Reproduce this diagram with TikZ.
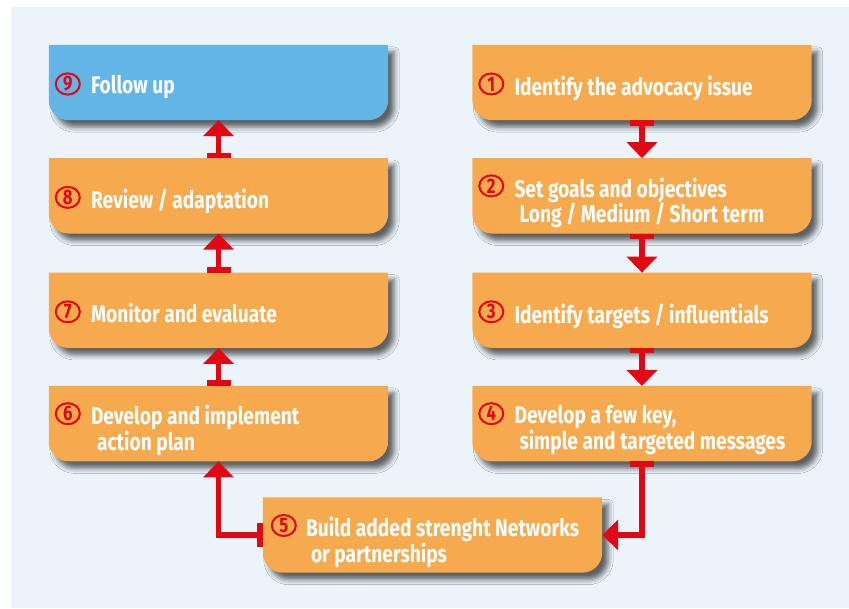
\documentclass[tikz,border=0pt]{standalone}
\usepackage{fontspec}
\newfontfamily\stepfont{Fira Sans}[FakeStretch=0.8]
\usepackage{tikz}
\usetikzlibrary{positioning,calc,backgrounds,arrows.meta,shapes.geometric,shadows.blur}
\definecolor{bgblue}{RGB}{235,244,251}
\definecolor{stepgold}{RGB}{247,169,78}
\definecolor{stepsky}{RGB}{99,181,230}
\definecolor{flowred}{RGB}{227,6,19}
\tikzset{stepbox/.style={minimum width=339pt,minimum height=75pt,inner sep=0pt}}

\begin{document}
\begin{tikzpicture}[x=1pt,y=1pt]
\tikzset{steptext/.style={text=white,align=left,inner sep=0pt,font=\stepfont\bfseries\fontsize{24}{24.5}\selectfont}}
\tikzset{stepnum/.style={ellipse,draw=flowred,line width=2pt,minimum width=24pt,minimum height=21pt,inner sep=0pt,text=flowred,font=\stepfont\bfseries\fontsize{21}{21}\selectfont}}
\tikzset{stepshadow/.style={blur shadow={shadow xshift=6pt,shadow yshift=-7pt,shadow blur radius=5pt,shadow opacity=60}}}
\tikzset{flow/.style={draw=flowred,line width=5.5pt,{Bar[width=24pt]}-{Triangle[width=30pt,length=16pt]}}}
\useasboundingbox (0,0) rectangle (849,608);
% right column
\node[stepbox] (s1) at (642,525.5) {};
\node[stepbox,below=38pt of s1] (s2) {};
\node[stepbox,below=39pt of s2] (s3) {};
\node[stepbox,below=38pt of s3] (s4) {};
% bottom
\node[stepbox] (s5) at (432.5,73) {};
% left column
\node[stepbox] (s9) at (218.5,525.5) {};
\node[stepbox,below=38pt of s9] (s8) {};
\node[stepbox,below=39pt of s8] (s7) {};
\node[stepbox,below=38pt of s7] (s6) {};
% texts
\node[steptext,below right=-7pt and 42pt of s1.west] (t1) {Identify the advocacy issue};
\node[steptext,below right=-18.5pt and 42pt of s2.west] (t2) {Set goals and objectives\\\hspace*{5pt}Long / Medium / Short term};
\node[steptext,below right=-7pt and 42pt of s3.west] (t3) {Identify targets / influentials};
\node[steptext,below right=-18.5pt and 42pt of s4.west] (t4) {Develop a few key,\\\hspace*{5pt}simple and targeted messages};
\node[steptext,below right=-18pt and 43pt of s5.west] (t5) {Build added strenght Networks\\\hspace*{5pt}or partnerships};
\node[steptext,below right=-18.5pt and 42pt of s6.west] (t6) {Develop and implement\\\hspace*{6pt}action plan};
\node[steptext,below right=-7pt and 42pt of s7.west] (t7) {Monitor and evaluate};
\node[steptext,below right=-7pt and 42pt of s8.west] (t8) {Review / adaptation};
\node[steptext,below right=-7pt and 42pt of s9.west] (t9) {Follow up};
% numbers
\node[stepnum] (n1) at ($(t1.north west)+(-23pt,-8.5pt)$) {1};
\node[stepnum] (n2) at ($(t2.north west)+(-23pt,-8.5pt)$) {2};
\node[stepnum] (n3) at ($(t3.north west)+(-23pt,-8.5pt)$) {3};
\node[stepnum] (n4) at ($(t4.north west)+(-23pt,-8.5pt)$) {4};
\node[stepnum] (n5) at ($(t5.north west)+(-22pt,-8.5pt)$) {5};
\node[stepnum] (n6) at ($(t6.north west)+(-23pt,-8.5pt)$) {6};
\node[stepnum] (n7) at ($(t7.north west)+(-23pt,-8.5pt)$) {7};
\node[stepnum] (n8) at ($(t8.north west)+(-23pt,-8.5pt)$) {8};
\node[stepnum] (n9) at ($(t9.north west)+(-23pt,-8.5pt)$) {9};
% connectors
\draw[flow] (s1.south) -- (s2.north);
\draw[flow] (s2.south) -- (s3.north);
\draw[flow] (s3.south) -- (s4.north);
\draw[flow] (s4.south) |- (s5.east);
\draw[flow] (s5.west) -| (s6.south);
\draw[flow] (s6.north) -- (s7.south);
\draw[flow] (s7.north) -- (s8.south);
\draw[flow] (s8.north) -- (s9.south);
\begin{pgfonlayer}{background}
  \fill[bgblue] (11,0) rectangle (849,601);
  \foreach \s/\c in {s1/stepgold,s2/stepgold,s3/stepgold,s4/stepgold,s5/stepgold,s6/stepgold,s7/stepgold,s8/stepgold,s9/stepsky}
    \fill[\c,stepshadow] (\s.north west) -- (\s.north east) -- ($(\s.south east)+(0,20pt)$) arc[start angle=0,end angle=-90,radius=20pt] -- ($(\s.south west)+(20pt,0)$) arc[start angle=270,end angle=180,radius=20pt] -- cycle;
\end{pgfonlayer}
\end{tikzpicture}
\end{document}
